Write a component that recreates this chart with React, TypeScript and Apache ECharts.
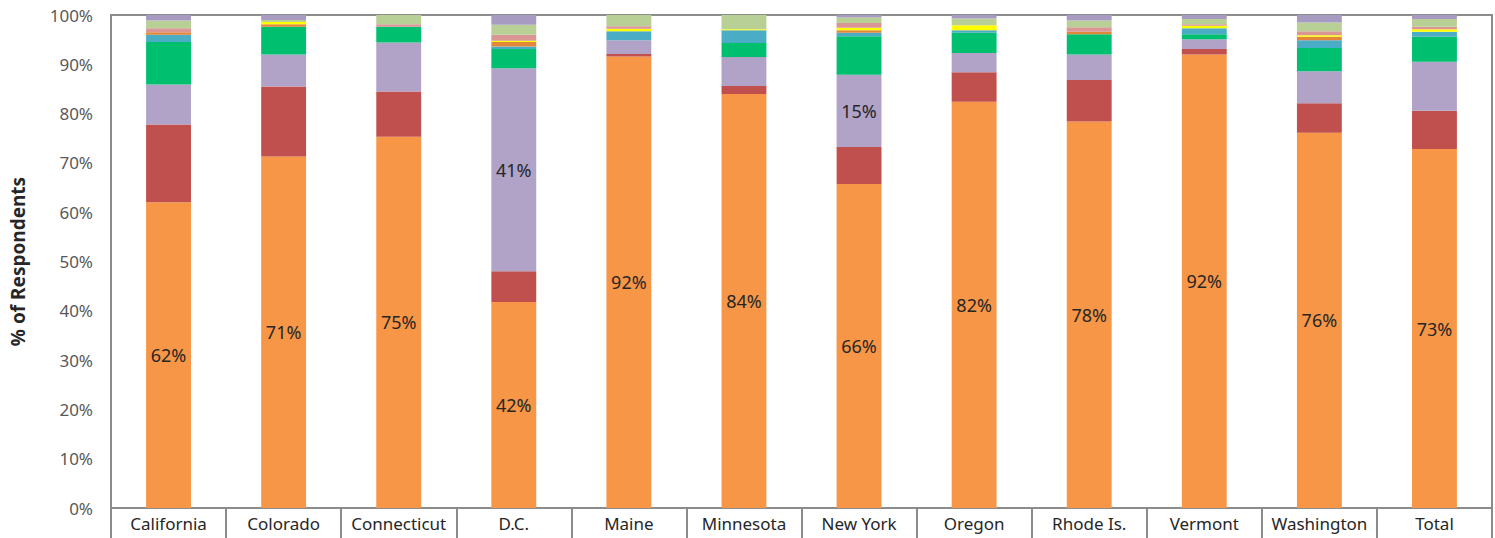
import React, { useEffect, useRef } from "react";
import * as echarts from "echarts";

const categories = ["California", "Colorado", "Connecticut", "D.C.", "Maine", "Minnesota", "New York", "Oregon", "Rhode Is.", "Vermont", "Washington", "Total"];

const seriesNames = ["Series 1", "Series 2", "Series 3", "Series 4", "Series 5", "Series 6", "Series 7", "Series 8", "Series 9", "Series 10"];

const s1 = [62.0, 71.3, 75.3, 41.8, 91.6, 84.0, 65.7, 82.4, 78.4, 92.0, 76.1, 72.8];
const s2 = [15.8, 14.2, 9.2, 6.2, 0.5, 1.6, 7.5, 6.0, 8.4, 1.1, 6.0, 7.8];
const s3 = [8.1, 6.5, 9.9, 41.2, 2.8, 5.9, 14.7, 3.9, 5.2, 2.0, 6.5, 9.9];
const s4 = [8.6, 5.6, 3.2, 3.9, 0.0, 2.8, 7.8, 4.1, 4.1, 1.0, 4.7, 5.1];
const s5 = [1.5, 0.0, 0.0, 0.5, 1.8, 2.6, 0.7, 0.5, 0.0, 1.2, 1.6, 1.0];
const s6 = [0.5, 0.5, 0.0, 0.9, 0.0, 0.0, 0.5, 0.0, 0.5, 0.0, 0.7, 0.0];
const s7 = [0.0, 0.5, 0.0, 0.3, 0.5, 0.2, 0.5, 1.0, 0.0, 0.5, 0.3, 0.5];
const s8 = [0.8, 0.0, 0.5, 1.2, 0.5, 0.0, 1.0, 0.0, 0.9, 0.3, 0.8, 0.5];
const s9 = [1.6, 0.4, 1.9, 2.0, 2.3, 2.9, 1.1, 1.4, 1.4, 1.1, 1.8, 1.6];
const s10 = [1.1, 1.0, 0.0, 2.0, 0.0, 0.0, 0.5, 0.7, 1.1, 0.8, 1.5, 0.8];

const seriesValues = [s1, s2, s3, s4, s5, s6, s7, s8, s9, s10];
const seriesColors = ["#F79646", "#C0504D", "#B1A2C8", "#00BF6F", "#4BACC6", "#E2873A", "#FFFF00", "#D99694", "#B8CF96", "#A79BC2"];

// Which categories show a label for the purple series
const purpleLabelled = ["D.C.", "New York"];

const FONT = "Noto Sans";

export default function App() {
  const ref = useRef<HTMLDivElement>(null);

  useEffect(() => {
    if (!ref.current) return;
    const chart = echarts.init(ref.current, null, { renderer: "svg" });

    const labelStyle = {
      color: "#262626",
      fontSize: 18,
      fontFamily: FONT,
      formatter: (p: any) => Math.round(p.value) + "%",
    };

    const series = seriesValues.map((vals, si) => ({
      name: seriesNames[si],
      type: "bar",
      stack: "total",
      barWidth: "39%",
      itemStyle: { color: seriesColors[si] },
      emphasis: { disabled: true },
      data: vals.map((v, ci) => {
        if (si === 0) {
          return { value: v, label: { show: true, position: "inside", ...labelStyle } };
        }
        if (si === 2 && purpleLabelled.includes(categories[ci])) {
          return { value: v, label: { show: true, position: "inside", ...labelStyle } };
        }
        return { value: v };
      }),
    }));

    chart.setOption({
      animation: false,
      grid: {
        left: 107,
        right: 3,
        top: 15,
        bottom: 30,
        show: true,
        borderColor: "#8C8C8C",
        borderWidth: 2,
        backgroundColor: "transparent",
      },
      xAxis: {
        type: "category",
        data: categories,
        axisLine: { show: true, lineStyle: { color: "#8C8C8C", width: 2 } },
        axisTick: {
          show: true,
          length: 32,
          interval: 0,
          alignWithLabel: false,
          lineStyle: { color: "#8C8C8C", width: 2 },
        },
        axisLabel: {
          interval: 0,
          color: "#262626",
          fontSize: 17,
          fontFamily: FONT,
          margin: 7,
        },
      },
      yAxis: {
        type: "value",
        min: 0,
        max: 100,
        interval: 10,
        name: "% of Respondents",
        nameLocation: "middle",
        nameRotate: 90,
        nameGap: 84,
        nameTextStyle: { color: "#262626", fontSize: 19, fontWeight: "bold", fontFamily: FONT },
        splitLine: { show: false },
        axisLine: { show: true, lineStyle: { color: "#8C8C8C", width: 2 } },
        axisTick: { show: false },
        axisLabel: {
          color: "#595959",
          fontSize: 17,
          fontFamily: FONT,
          margin: 18,
          formatter: (v: number) => v + "%",
        },
      },
      series,
    });

    return () => chart.dispose();
  }, []);

  return (
    <div
      ref={ref}
      style={{ position: "fixed", left: 0, top: 0, width: 1495, height: 538, background: "#fff" }}
    />
  );
}
